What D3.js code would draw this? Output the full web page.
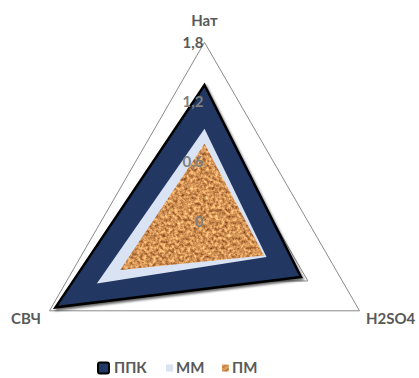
<!DOCTYPE html>
<html>
<head>
<meta charset="utf-8">
<script src="https://cdn.jsdelivr.net/npm/d3@7"></script>
<style>
  html, body { margin: 0; padding: 0; background: #fff; }
  svg { display: block; }
  text { font-family: Lato, "Open Sans", sans-serif; font-weight: bold; }
</style>
</head>
<body>
<div id="chart"></div>
<script>
// Radar chart: three treatment categories, three sample series
const categories = ["Нат", "H2SO4", "СВЧ"];
const seriesNames = ["ППК", "ММ", "ПМ"];
const valuesPPK = [1.37, 1.12, 1.73];
const valuesMM = [0.93, 0.72, 1.25];
const valuesPM = [0.78, 0.69, 0.98];
const tickValues = [0, 0.6, 1.2, 1.8];
const tickLabels = ["0", "0,6", "1,2", "1,8"];

const width = 419, height = 378;
const cx = 204.5, cy = 221.3, radius = 179;

const svg = d3.select("#chart").append("svg")
  .attr("width", width).attr("height", height);

const defs = svg.append("defs");

// Cork-like texture for the ПМ series
const cork = defs.append("filter").attr("id", "cork")
  .attr("color-interpolation-filters", "sRGB")
  .attr("x", 0).attr("y", 0).attr("width", 1).attr("height", 1);
cork.append("feTurbulence")
  .attr("type", "fractalNoise").attr("baseFrequency", 0.32)
  .attr("numOctaves", 3).attr("seed", 7).attr("result", "noise");
cork.append("feColorMatrix").attr("in", "noise").attr("type", "matrix")
  .attr("values",
    "0.85 0 0 0 0.40  " +
    "0.85 0 0 0 0.15  " +
    "0.65 0 0 0 0.01  " +
    "0 0 0 0 1")
  .attr("result", "tint");
cork.append("feComposite").attr("in", "tint").attr("in2", "SourceGraphic")
  .attr("operator", "in");

// Soft drop shadow for the outer series
const shadow = defs.append("filter").attr("id", "shadow")
  .attr("x", "-10%").attr("y", "-10%").attr("width", "120%").attr("height", "120%");
shadow.append("feDropShadow").attr("dx", 1.5).attr("dy", 2)
  .attr("stdDeviation", 0.8).attr("flood-color", "#000").attr("flood-opacity", 0.6);

const r = d3.scaleLinear().domain([0, 1.8]).range([0, radius]);
const angle = d3.scalePoint().domain(categories).range([0, 240]);
const toRad = d => (angle(d) - 90) * Math.PI / 180;

function point(cat, v) {
  const a = toRad(cat);
  return [cx + r(v) * Math.cos(a), cy + r(v) * Math.sin(a)];
}
const polygon = vals => "M" + categories.map((c, i) => point(c, vals[i]).join(",")).join("L") + "Z";

// Triangular grid rings
svg.append("g").selectAll("path").data(tickValues.filter(t => t > 0)).join("path")
  .attr("d", t => polygon(categories.map(() => t)))
  .attr("fill", "none").attr("stroke", "#8a8a8a").attr("stroke-width", 1);

// Series areas
svg.append("path").attr("d", polygon(valuesPPK))
  .attr("fill", "#203864").attr("stroke", "#000").attr("stroke-width", 2.5)
  .attr("stroke-linejoin", "miter").attr("filter", "url(#shadow)");
svg.append("path").attr("d", polygon(valuesMM)).attr("fill", "#dae3f3");
svg.append("path").attr("d", polygon(valuesPM)).attr("fill", "#c68a52").attr("filter", "url(#cork)");

// Radial tick labels along the top axis
svg.append("g").selectAll("text").data(tickValues).join("text")
  .attr("x", cx - 1)
  .attr("y", t => point(categories[0], t)[1])
  .attr("dy", "0.35em")
  .attr("text-anchor", "end")
  .attr("font-size", 15)
  .attr("fill", (t, i) => i === tickValues.length - 1 ? "#595959" : "#7f7f7f")
  .text((t, i) => tickLabels[i]);

// Category labels
const catLabel = [
  { x: cx, y: 21, anchor: "middle" },
  { x: 366, y: 319, anchor: "start" },
  { x: 41, y: 319, anchor: "end" }
];
svg.append("g").selectAll("text").data(categories).join("text")
  .attr("x", (d, i) => catLabel[i].x).attr("y", (d, i) => catLabel[i].y)
  .attr("dy", "0.35em").attr("text-anchor", (d, i) => catLabel[i].anchor)
  .attr("font-size", 15).attr("fill", "#595959")
  .text(d => d);

// Legend
const legend = svg.append("g");
const legendItems = [
  { name: seriesNames[0], x: 98, size: 11, fill: "#203864", stroke: "#000" },
  { name: seriesNames[1], x: 166, size: 7, fill: "#dae3f3", stroke: "none" },
  { name: seriesNames[2], x: 222, size: 7, fill: "#c68a52", stroke: "none" }
];
const ly = 368;
legendItems.forEach((it, i) => {
  const g = legend.append("g");
  g.append("rect")
    .attr("x", it.x).attr("y", ly - it.size / 2)
    .attr("width", it.size).attr("height", it.size)
    .attr("rx", i === 0 ? 2 : 0)
    .attr("fill", it.fill).attr("stroke", it.stroke).attr("stroke-width", 2)
    .attr("filter", i === 2 ? "url(#cork)" : null);
  g.append("text")
    .attr("x", it.x + (i === 0 ? 16 : 10)).attr("y", ly).attr("dy", "0.35em")
    .attr("font-size", 15).attr("fill", "#595959")
    .text(it.name);
});
</script>
</body>
</html>
